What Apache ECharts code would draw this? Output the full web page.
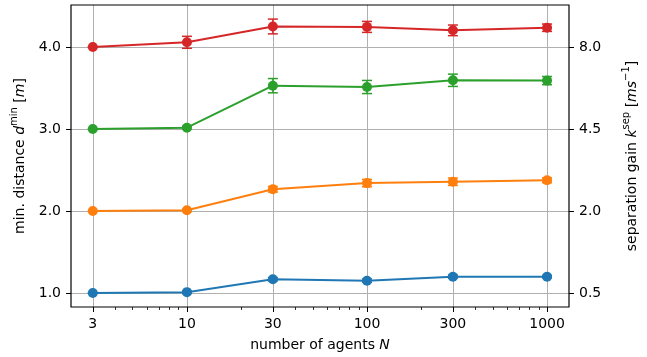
<!DOCTYPE html>
<html>
<head>
<meta charset="utf-8">
<script src="https://cdn.jsdelivr.net/npm/echarts@6/dist/echarts.min.js"></script>
<style>html,body{margin:0;padding:0;background:#fff}#c{width:647px;height:357px}</style>
</head>
<body>
<div id="c"></div>
<script>
const agents = [3, 10, 30, 100, 300, 1000];
const xTickLabels = ['3', '10', '30', '100', '300', '1000'];
const yTicks = [1, 2, 3, 4];
const minorTicks = [4,5,6,7,8,9,20,40,50,60,70,80,90,200,400,500,600,700,800,900];
const dBlue   = [1.000, 1.010, 1.167, 1.150, 1.199, 1.199];
const dOrange = [2.000, 2.008, 2.265, 2.340, 2.357, 2.374];
const dGreen  = [3.000, 3.016, 3.528, 3.512, 3.594, 3.590];
const dRed    = [4.000, 4.057, 4.250, 4.245, 4.203, 4.235];
const eBlue   = [0.000, 0.015, 0.020, 0.020, 0.020, 0.015];
const eOrange = [0.000, 0.015, 0.035, 0.045, 0.045, 0.030];
const eGreen  = [0.000, 0.020, 0.087, 0.080, 0.075, 0.050];
const eRed    = [0.000, 0.073, 0.090, 0.067, 0.065, 0.045];
const colors = ['#1f77b4', '#ff7f0e', '#2ca02c', '#d62728'];
const seriesVals = [dBlue, dOrange, dGreen, dRed];
const seriesErr = [eBlue, eOrange, eGreen, eRed];

const FONT = 'DejaVu Sans';
const FS = 14;
const series = [];
seriesVals.forEach((vals, k) => {
  const c = colors[k];
  series.push({
    type: 'line', xAxisIndex: 0, yAxisIndex: 0,
    data: agents.map((a, i) => [a, vals[i]]),
    symbol: 'circle', symbolSize: 10, showSymbol: true,
    lineStyle: {color: c, width: 2}, itemStyle: {color: c},
    z: 3, animation: false
  });
  series.push({
    type: 'custom', xAxisIndex: 0, yAxisIndex: 0,
    data: agents.map((a, i) => [a, vals[i] - seriesErr[k][i], vals[i] + seriesErr[k][i]]),
    renderItem: function (params, api) {
      const x = api.value(0);
      const lo = api.coord([x, api.value(1)]);
      const hi = api.coord([x, api.value(2)]);
      const w = 5;
      const st = {stroke: c, lineWidth: 1.5};
      return {type: 'group', children: [
        {type: 'line', shape: {x1: lo[0], y1: lo[1], x2: hi[0], y2: hi[1]}, style: st},
        {type: 'line', shape: {x1: lo[0]-w, y1: lo[1], x2: lo[0]+w, y2: lo[1]}, style: st},
        {type: 'line', shape: {x1: hi[0]-w, y1: hi[1], x2: hi[0]+w, y2: hi[1]}, style: st}
      ]};
    },
    z: 4, animation: false
  });
});

const chart = echarts.init(document.getElementById('c'), null, {renderer: 'canvas'});
const yMin = 0.829, yMax = 4.512;
chart.setOption({
  animation: false,
  textStyle: {fontFamily: FONT},
  grid: {left: 71, right: 78, top: 5, bottom: 50, show: true, borderColor: '#000', borderWidth: 1.2, backgroundColor: 'transparent', z: 10},
  xAxis: [{
    type: 'log', logBase: 10, min: 2.27, max: 1324, position: 'bottom',
    axisLine: {show: false},
    axisTick: {show: true, length: 5, lineStyle: {color: '#000', width: 1}, customValues: agents},
    axisLabel: {show: true, margin: 10, color: '#000', fontSize: FS, fontFamily: FONT, customValues: agents,
      formatter: v => xTickLabels[agents.findIndex(a => Math.abs(a - v) < 1e-6 * a)] || ''},
    splitLine: {show: true, lineStyle: {color: '#b0b0b0', width: 1}},
    minorTick: {show: false}, minorSplitLine: {show: false},
    name: '{t|number of agents }{i|N}', nameLocation: 'middle', nameGap: 31,
    nameTextStyle: {rich: {t: {fontSize: FS, fontFamily: FONT, color: '#000'}, i: {fontSize: FS, fontFamily: FONT, fontStyle: 'italic', color: '#000'}}}
  }, {
    type: 'log', logBase: 10, min: 2.27, max: 1324, position: 'bottom',
    axisLine: {show: false},
    axisTick: {show: true, length: 3, lineStyle: {color: '#000', width: 0.8}, customValues: minorTicks},
    axisLabel: {show: false}, splitLine: {show: false}
  }],
  yAxis: [{
    type: 'value', min: yMin, max: yMax, position: 'left',
    axisLine: {show: false},
    axisTick: {show: true, length: 5, lineStyle: {color: '#000', width: 1}, customValues: yTicks},
    axisLabel: {show: true, margin: 10, color: '#000', fontSize: FS, fontFamily: FONT, customValues: yTicks, formatter: v => v.toFixed(1)},
    splitLine: {show: true, lineStyle: {color: '#b0b0b0', width: 1}},
    name: '{t|min. distance }{i|d}{s|min}{t| [}{i|m}{t|]}', nameLocation: 'middle', nameGap: 42, nameRotate: 90,
    nameTextStyle: {rich: {
      t: {fontSize: FS, fontFamily: FONT, color: '#000', lineHeight: 18, verticalAlign: 'bottom'},
      i: {fontSize: FS, fontFamily: FONT, fontStyle: 'italic', color: '#000', lineHeight: 18, verticalAlign: 'bottom'},
      s: {fontSize: 10, fontFamily: FONT, color: '#000', lineHeight: 18, verticalAlign: 'top'}
    }}
  }, {
    type: 'value', min: yMin, max: yMax, position: 'right',
    axisLine: {show: false},
    axisTick: {show: true, length: 5, lineStyle: {color: '#000', width: 1}, customValues: yTicks},
    axisLabel: {show: true, margin: 10, color: '#000', fontSize: FS, fontFamily: FONT, customValues: yTicks, formatter: v => (0.5 * v * v).toFixed(1)},
    splitLine: {show: false},
    name: '{t|separation gain }{i|k}{s|sep}{t| [}{i|ms}{s|−1}{t|]}', nameLocation: 'middle', nameGap: 52, nameRotate: 90,
    nameTextStyle: {rich: {
      t: {fontSize: FS, fontFamily: FONT, color: '#000', lineHeight: 18, verticalAlign: 'bottom'},
      i: {fontSize: FS, fontFamily: FONT, fontStyle: 'italic', color: '#000', lineHeight: 18, verticalAlign: 'bottom'},
      s: {fontSize: 10, fontFamily: FONT, color: '#000', lineHeight: 18, verticalAlign: 'top'}
    }}
  }],
  series: series
});
</script>
</body>
</html>
